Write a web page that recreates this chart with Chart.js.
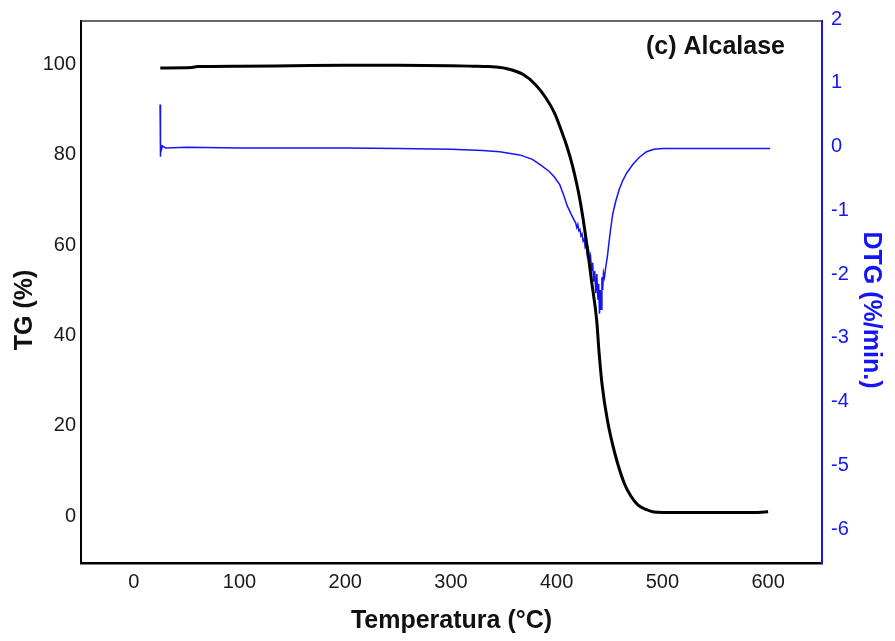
<!DOCTYPE html>
<html>
<head>
<meta charset="utf-8">
<script src="https://cdn.jsdelivr.net/npm/chart.js@4/dist/chart.umd.min.js"></script>
<style>
  html, body { margin: 0; padding: 0; background: #ffffff; }
  canvas { display: block; }
</style>
</head>
<body>
<canvas id="tga" width="895" height="641"></canvas>
<script>
// Thermogravimetric curve (mass %) versus temperature
const tgTemp = [25, 55, 60, 100, 150, 200, 250, 300, 320, 336, 352, 368, 380, 390, 398, 404, 410, 415, 422, 428, 433, 438, 440, 443, 448, 455, 464, 470, 477, 485, 492, 500, 550, 590, 597, 600];
const tgValue = [99.2, 99.3, 99.5, 99.6, 99.7, 99.8, 99.8, 99.7, 99.6, 99.5, 99.1, 97.8, 95.5, 92.5, 89.2, 85.6, 81.6, 77.5, 70, 61, 52, 43, 36.5, 29, 21.2, 13.9, 7.2, 4.5, 2.4, 1.4, 0.9, 0.8, 0.8, 0.8, 0.9, 1.0];

// Derivative curve (%/min) versus temperature
const dtgTemp = [24.8, 25.0, 25.4, 26, 27, 30, 50, 100, 150, 200, 250, 300, 330, 346, 365, 377, 385, 393, 398, 403, 407, 410, 414, 418, 419, 420, 421, 422, 423, 424, 425, 426, 427, 428, 429, 430, 431, 432, 433, 434, 435, 436, 437, 438, 439, 439.7, 440.5, 441.2, 442, 442.8, 443.5, 444.3, 445.2, 446.5, 448, 449.5, 451, 453, 456, 459, 462, 466, 472, 478, 485, 492, 500, 520, 550, 580, 602];
const dtgValue = [0.66, -0.16, 0.06, -0.05, 0.01, -0.02, -0.01, -0.02, -0.02, -0.02, -0.03, -0.04, -0.06, -0.08, -0.13, -0.2, -0.29, -0.39, -0.48, -0.6, -0.78, -0.93, -1.07, -1.2, -1.27, -1.22, -1.32, -1.3, -1.4, -1.37, -1.48, -1.45, -1.58, -1.54, -1.7, -1.62, -1.8, -1.72, -1.95, -1.82, -2.12, -1.95, -2.3, -2.0, -2.4, -2.15, -2.62, -2.25, -2.55, -2.05, -2.25, -1.98, -2.05, -1.88, -1.72, -1.5, -1.3, -1.06, -0.85, -0.68, -0.55, -0.42, -0.28, -0.17, -0.08, -0.04, -0.03, -0.03, -0.03, -0.03, -0.03];

// Tick labels
const tempTicks = [0, 100, 200, 300, 400, 500, 600];
const tgTicks = [0, 20, 40, 60, 80, 100];
const dtgTicks = [-6, -5, -4, -3, -2, -1, 0, 1, 2];

const sampleLabel = '(c) Alcalase';
const tgTitle = 'TG (%)';
const dtgTitle = 'DTG (%/min.)';

const FONT = "'Liberation Sans', Arial, sans-serif";
const BLUE = '#1414f5';

const toPoints = (xs, ys) => xs.map((x, i) => ({ x: x, y: ys[i] }));
const fixedTicks = list => scale => { scale.ticks = list.map(v => ({ value: v })); };

// Top frame line, vertical axis titles and the sample label
const framePlugin = {
  id: 'frame',
  afterDraw(chart) {
    const { ctx, chartArea } = chart;
    ctx.save();
    ctx.strokeStyle = '#333333';
    ctx.lineWidth = 1.5;
    ctx.beginPath();
    ctx.moveTo(chartArea.left, chartArea.top);
    ctx.lineTo(chartArea.right, chartArea.top);
    ctx.stroke();

    ctx.font = "bold 25px " + FONT;
    ctx.fillStyle = '#111111';
    ctx.textAlign = 'right';
    ctx.textBaseline = 'alphabetic';
    ctx.fillText(sampleLabel, chartArea.right - 37, chartArea.top + 33);

    const midY = (chartArea.top + chartArea.bottom) / 2 + 18;
    ctx.textAlign = 'center';
    ctx.textBaseline = 'middle';

    ctx.save();
    ctx.translate(25, midY);
    ctx.rotate(-Math.PI / 2);
    ctx.fillStyle = '#111111';
    ctx.fillText(tgTitle, 0, 0);
    ctx.restore();

    ctx.save();
    ctx.translate(chart.width - 24, midY);
    ctx.rotate(Math.PI / 2);
    ctx.fillStyle = BLUE;
    ctx.fillText(dtgTitle, 0, 0);
    ctx.restore();

    ctx.restore();
  }
};

new Chart(document.getElementById('tga'), {
  type: 'line',
  data: {
    datasets: [
      {
        label: 'TG',
        data: toPoints(tgTemp, tgValue),
        yAxisID: 'y',
        borderColor: '#000000',
        borderWidth: 3,
        pointRadius: 0,
        cubicInterpolationMode: 'monotone',
        fill: false
      },
      {
        label: 'DTG',
        data: toPoints(dtgTemp, dtgValue),
        yAxisID: 'y1',
        borderColor: BLUE,
        borderWidth: 1.5,
        pointRadius: 0,
        tension: 0,
        fill: false
      }
    ]
  },
  options: {
    responsive: false,
    animation: false,
    devicePixelRatio: 1,
    layout: { padding: { top: 19, left: 0, right: 0, bottom: 0 } },
    plugins: { legend: { display: false }, tooltip: { enabled: false } },
    scales: {
      x: {
        type: 'linear',
        position: 'bottom',
        min: -50,
        max: 651,
        afterBuildTicks: fixedTicks(tempTicks),
        afterFit: s => { s.height = 78; },
        grid: { display: false, drawTicks: false },
        border: { display: true, color: '#000000', width: 2.5 },
        ticks: { color: '#1a1a1a', font: { family: FONT, size: 20 }, padding: 7, maxRotation: 0 },
        title: { display: true, text: 'Temperatura (°C)', color: '#111111', font: { family: FONT, size: 25, weight: 'bold' }, padding: { top: 0, bottom: 5 } }
      },
      y: {
        type: 'linear',
        position: 'left',
        min: -10.4,
        max: 109.6,
        afterBuildTicks: fixedTicks(tgTicks),
        afterFit: s => { s.width = 81; },
        grid: { display: false, drawTicks: false },
        border: { display: true, color: '#000000', width: 2 },
        ticks: { color: '#1a1a1a', font: { family: FONT, size: 20 }, padding: 5 },
        title: { display: false }
      },
      y1: {
        type: 'linear',
        position: 'right',
        min: -6.53,
        max: 1.97,
        afterBuildTicks: fixedTicks(dtgTicks),
        afterFit: s => { s.width = 73; },
        grid: { display: false, drawTicks: false },
        border: { display: true, color: BLUE, width: 2 },
        ticks: { color: BLUE, font: { family: FONT, size: 20 }, padding: 9 },
        title: { display: false }
      }
    }
  },
  plugins: [framePlugin]
});
</script>
</body>
</html>
